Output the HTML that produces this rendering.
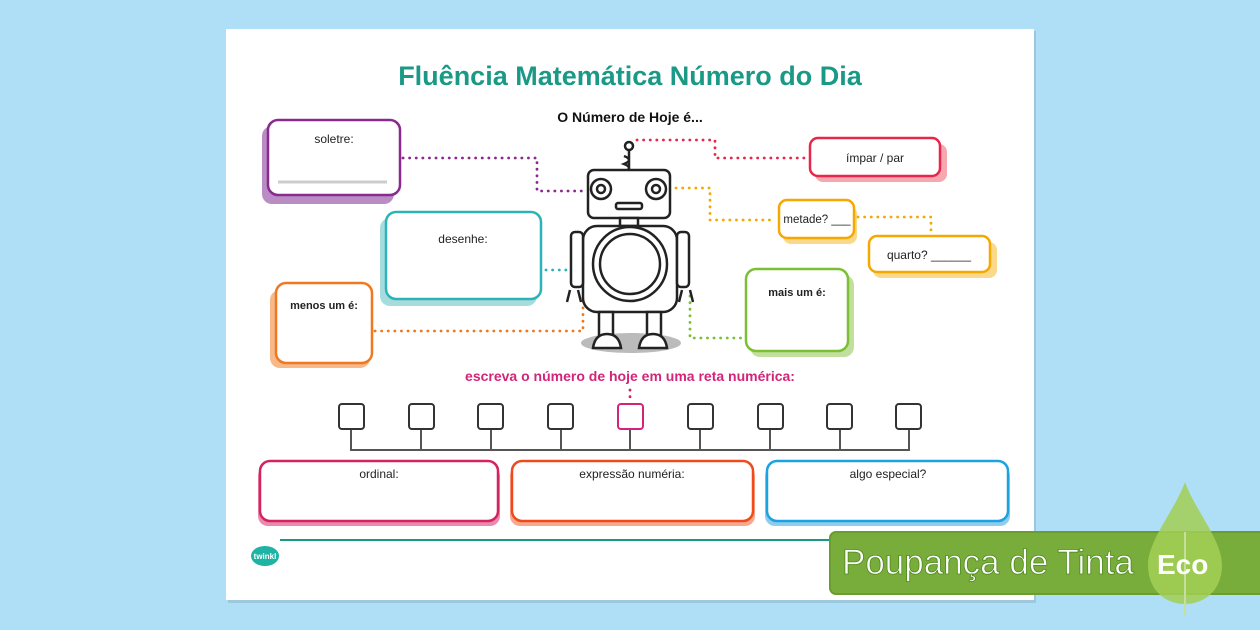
<!DOCTYPE html>
<html><head><meta charset="utf-8"><style>
html,body{margin:0;padding:0;width:1260px;height:630px;overflow:hidden;background:#aedff7;}
svg{display:block}
text{font-family:"Liberation Sans",sans-serif;}
</style></head><body>
<svg width="1260" height="630" viewBox="0 0 1260 630">
<rect x="228" y="31" width="808" height="572" fill="#8fb8cc" opacity="0.6"/>
<rect x="226" y="29" width="808" height="571" fill="#fff"/>
<text x="630" y="85" text-anchor="middle" font-size="27" font-weight="bold" fill="#1a9a86">Fluência Matemática Número do Dia</text>
<text x="630" y="122" text-anchor="middle" font-size="14" font-weight="bold" fill="#111">O Número de Hoje é...</text>
<g stroke-width="2.5">
<rect x="262" y="126" width="132" height="78" rx="10" fill="#b98cc4" stroke="none"/>
<rect x="268" y="120" width="132" height="75" rx="10" fill="#fff" stroke="#8a2a8f"/>
<line x1="278" y1="182" x2="387" y2="182" stroke="#ccc" stroke-width="3"/>
<rect x="380" y="218" width="157" height="88" rx="10" fill="#a7dcdc" stroke="none"/>
<rect x="386" y="212" width="155" height="87" rx="10" fill="#fff" stroke="#2bb3b8"/>
<rect x="270" y="290" width="100" height="78" rx="10" fill="#f7b98a" stroke="none"/>
<rect x="276" y="283" width="96" height="80" rx="10" fill="#fff" stroke="#f07820"/>
<rect x="815" y="144" width="132" height="38" rx="8" fill="#f6a7b0" stroke="none"/>
<rect x="810" y="138" width="130" height="38" rx="8" fill="#fff" stroke="#e8264a"/>
<rect x="783" y="206" width="74" height="38" rx="8" fill="#fbd98a" stroke="none"/>
<rect x="779" y="200" width="75" height="38" rx="8" fill="#fff" stroke="#f5a800"/>
<rect x="873" y="242" width="124" height="36" rx="8" fill="#fbd98a" stroke="none"/>
<rect x="869" y="236" width="121" height="36" rx="8" fill="#fff" stroke="#f5a800"/>
<rect x="750" y="275" width="104" height="82" rx="10" fill="#c3df9d" stroke="none"/>
<rect x="746" y="269" width="102" height="82" rx="10" fill="#fff" stroke="#7dbf34"/>
<rect x="258" y="466" width="242" height="60" rx="10" fill="#eb8ab0" stroke="none"/>
<rect x="260" y="461" width="238" height="60" rx="10" fill="#fff" stroke="#d3245f"/>
<rect x="510" y="466" width="245" height="60" rx="10" fill="#f7a98e" stroke="none"/>
<rect x="512" y="461" width="241" height="60" rx="10" fill="#fff" stroke="#ee4a1e"/>
<rect x="765" y="466" width="245" height="60" rx="10" fill="#8fcdef" stroke="none"/>
<rect x="767" y="461" width="241" height="60" rx="10" fill="#fff" stroke="#1ba2e0"/>
</g>
<g font-size="12" fill="#222" text-anchor="middle">
<text x="334" y="143">soletre:</text>
<text x="463" y="243">desenhe:</text>
<text x="324" y="309" font-size="11" font-weight="bold">menos um é:</text>
<text x="875" y="162">ímpar / par</text>
<text x="817" y="223" font-size="11.5">metade? ___</text>
<text x="929" y="259">quarto? ______</text>
<text x="797" y="296" font-size="11" font-weight="bold">mais um é:</text>
<text x="379" y="478">ordinal:</text>
<text x="632" y="478">expressão numéria:</text>
<text x="888" y="478">algo especial?</text>
</g>
<g fill="none" stroke-width="2.8" stroke-dasharray="0.1 6.5" stroke-linecap="round">
<path d="M403 158 H537 V191 H585" stroke="#8a2a8f"/>
<path d="M546 270 H567" stroke="#2bb3b8"/>
<path d="M375 331 H583 V295" stroke="#f07820"/>
<path d="M637 140 H715 V158 H806" stroke="#e8264a"/>
<path d="M676 188 H710 V220 H776" stroke="#f5a800"/>
<path d="M858 217 H931 V234" stroke="#f5a800"/>
<path d="M690 296 V338 H743" stroke="#7dbf34"/>
<path d="M630 390 V402" stroke="#d3245f"/>
</g>
<g fill="#fff" stroke="#222" stroke-width="2.5">
<ellipse cx="631" cy="343" rx="50" ry="10" fill="#bbb" stroke="none"/>
<path d="M629 176 V150 M624 156 q10 4 0 8 q10 4 0 8" fill="none"/>
<circle cx="629" cy="146" r="4"/>
<rect x="588" y="170" width="82" height="48" rx="6"/>
<circle cx="601" cy="189" r="10"/><circle cx="601" cy="189" r="4"/>
<circle cx="656" cy="189" r="10"/><circle cx="656" cy="189" r="4"/>
<rect x="616" y="203" width="26" height="6" rx="2"/>
<rect x="620" y="218" width="18" height="8"/>
<rect x="583" y="226" width="94" height="86" rx="14"/>
<circle cx="630" cy="264" r="37"/><circle cx="630" cy="264" r="30"/>
<rect x="571" y="232" width="12" height="55" rx="4"/>
<rect x="677" y="232" width="12" height="55" rx="4"/>
<path d="M570 290 l-3 12 M578 290 l3 12 M682 290 l-3 12 M690 290 l3 12" fill="none"/>
<rect x="599" y="312" width="14" height="24"/><rect x="647" y="312" width="14" height="24"/>
<path d="M593 348 q2 -14 14 -14 q12 0 14 14 Z"/>
<path d="M639 348 q2 -14 14 -14 q12 0 14 14 Z"/>
</g>
<text x="630" y="381" text-anchor="middle" font-size="14" font-weight="bold" fill="#d3247a">escreva o número de hoje em uma reta numérica:</text>
<g fill="#fff" stroke="#333" stroke-width="2">
<path d="M351 430 V450 H909 V430 M421 430 V450 M491 430 V450 M561 430 V450 M630 430 V450 M700 430 V450 M770 430 V450 M840 430 V450" fill="none" stroke="#555"/>
<rect x="339" y="404" width="25" height="25" rx="3"/>
<rect x="409" y="404" width="25" height="25" rx="3"/>
<rect x="478" y="404" width="25" height="25" rx="3"/>
<rect x="548" y="404" width="25" height="25" rx="3"/>
<rect x="618" y="404" width="25" height="25" rx="3" stroke="#d3247a"/>
<rect x="688" y="404" width="25" height="25" rx="3"/>
<rect x="758" y="404" width="25" height="25" rx="3"/>
<rect x="827" y="404" width="25" height="25" rx="3"/>
<rect x="896" y="404" width="25" height="25" rx="3"/>
</g>
<line x1="280" y1="540" x2="1020" y2="540" stroke="#1a9a86" stroke-width="2"/>
<ellipse cx="265" cy="556" rx="14" ry="10" fill="#1fb3a3"/>
<text x="265" y="559" text-anchor="middle" font-size="8" fill="#fff" font-weight="bold">twinkl</text>
<rect x="830" y="532" width="440" height="62" rx="6" fill="#78ad3c" stroke="#6a9c30" stroke-width="2"/>
<path d="M1185 482 C1175 510 1148 540 1148 565 C1148 590 1165 604 1185 604 C1205 604 1222 590 1222 565 C1222 540 1195 510 1185 482 Z" fill="#a3cf55" opacity="0.85"/>
<line x1="1185" y1="532" x2="1185" y2="615" stroke="#c5e09a" stroke-width="2"/>
<text x="842" y="574" font-size="35" fill="#fff" stroke="#4f8a1a" stroke-width="0.8">Poupança de Tinta</text>
<text x="1157" y="574" font-size="28" font-weight="bold" fill="#fff">Eco</text>
</svg>
</body></html>
